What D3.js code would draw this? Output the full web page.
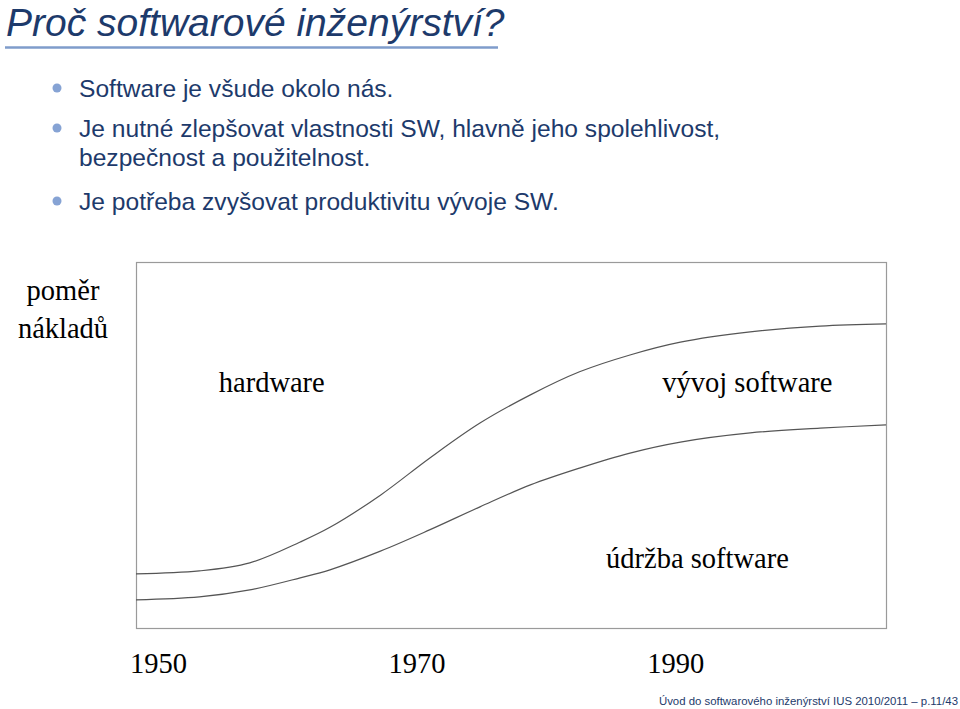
<!DOCTYPE html>
<html>
<head>
<meta charset="utf-8">
<script src="https://cdn.jsdelivr.net/npm/d3@7"></script>
<style>
  body { margin: 0; background: #fff; }
  svg { display: block; }
  .sans { font-family: "Liberation Sans", Arial, sans-serif; }
  .serif { font-family: "Liberation Serif", "Times New Roman", serif; }
</style>
</head>
<body>
<div id="slide"></div>
<script>
// slide texts
const title = 'Proč softwarové inženýrství?';
const bullets = [
  ['Software je všude okolo nás.'],
  ['Je nutné zlepšovat vlastnosti SW, hlavně jeho spolehlivost,', 'bezpečnost a použitelnost.'],
  ['Je potřeba zvyšovat produktivitu vývoje SW.']
];
const footer = 'Úvod do softwarového inženýrství IUS 2010/2011 – p.11/43';

// chart data (cost ratio, 0-100 of box height)
const years = [1948.3, 1953.2, 1957.1, 1961.0, 1963.3, 1967.2, 1971.0, 1974.9, 1978.8, 1982.6, 1986.5, 1990.4, 1995.8, 2001.2, 2006.3];
const upperCurve = [14.8, 15.6, 17.8, 23.5, 27.5, 36.3, 46.4, 56.0, 63.7, 70.0, 74.6, 78.1, 80.9, 82.5, 83.1];
const lowerCurve = [7.7, 8.5, 10.4, 13.7, 15.9, 21.0, 26.8, 33.1, 39.1, 43.7, 47.8, 50.8, 53.3, 54.6, 55.5];
const yearTicks = [1950, 1970, 1990];
const yLabel = ['poměr', 'nákladů'];
const areaLabels = [
  {text: 'hardware', year: 1954.7, value: 64.5},
  {text: 'vývoj software', year: 1989.0, value: 64.5},
  {text: 'údržba software', year: 1984.65, value: 16.4}
];

const width = 960, height = 709;
const box = {left: 136, top: 262, right: 886, bottom: 628};
const blue = '#1d3a6b';

const svg = d3.select('#slide').append('svg')
    .attr('width', width)
    .attr('height', height);

// title and rule
svg.append('text')
    .attr('class', 'sans')
    .attr('x', 6)
    .attr('y', 36)
    .attr('font-size', 39)
    .attr('font-style', 'italic')
    .attr('fill', blue)
    .text(title);

svg.append('line')
    .attr('x1', 5).attr('x2', 498)
    .attr('y1', 47.5).attr('y2', 47.5)
    .attr('stroke', '#7f9ccb')
    .attr('stroke-width', 2.5);

// bullets
const lineY = [97, 137, 166, 210];
let li = 0;
bullets.forEach(b => {
  svg.append('circle')
      .attr('cx', 57).attr('cy', lineY[li] - 9)
      .attr('r', 4.5)
      .attr('fill', '#86a3d4');
  b.forEach(line => {
    svg.append('text')
        .attr('class', 'sans')
        .attr('x', 79)
        .attr('y', lineY[li])
        .attr('font-size', 24.6)
        .attr('fill', blue)
        .text(line);
    li++;
  });
});

// chart
const x = d3.scaleLinear()
    .domain([1948.3, 2006.3])
    .range([box.left, box.right]);
const y = d3.scaleLinear()
    .domain([0, 100])
    .range([box.bottom, box.top]);

svg.append('rect')
    .attr('x', box.left + 0.5)
    .attr('y', box.top + 0.5)
    .attr('width', box.right - box.left)
    .attr('height', box.bottom - box.top)
    .attr('fill', 'none')
    .attr('stroke', '#9a9a9a')
    .attr('stroke-width', 1.2);

const line = d3.line()
    .x(d => x(d[0]))
    .y(d => y(d[1]))
    .curve(d3.curveCatmullRom.alpha(0.5));

[upperCurve, lowerCurve].forEach(series => {
  svg.append('path')
      .datum(years.map((yr, i) => [yr, series[i]]))
      .attr('d', line)
      .attr('fill', 'none')
      .attr('stroke', '#555')
      .attr('stroke-width', 1.2);
});

// year axis
const xAxis = svg.append('g')
    .attr('transform', `translate(0,${box.bottom + 22})`)
    .call(d3.axisBottom(x).tickValues(yearTicks).tickFormat(d3.format('d')).tickSize(0));
xAxis.select('.domain').remove();
xAxis.selectAll('text')
    .attr('font-family', '"Liberation Serif", serif')
    .attr('font-size', 28.5)
    .attr('fill', '#000');

// y label
svg.selectAll('.ylabel')
    .data(yLabel)
  .join('text')
    .attr('class', 'ylabel serif')
    .attr('x', 63)
    .attr('y', (d, i) => 300 + i * 38)
    .attr('text-anchor', 'middle')
    .attr('font-size', 28.5)
    .text(d => d);

// area labels
svg.selectAll('.area-label')
    .data(areaLabels)
  .join('text')
    .attr('class', 'area-label serif')
    .attr('x', d => x(d.year))
    .attr('y', d => y(d.value))
    .attr('font-size', 28.5)
    .text(d => d.text);

// footer
svg.append('text')
    .attr('class', 'sans')
    .attr('x', 958)
    .attr('y', 705)
    .attr('text-anchor', 'end')
    .attr('font-size', 11.4)
    .attr('fill', blue)
    .text(footer);
</script>
</body>
</html>
